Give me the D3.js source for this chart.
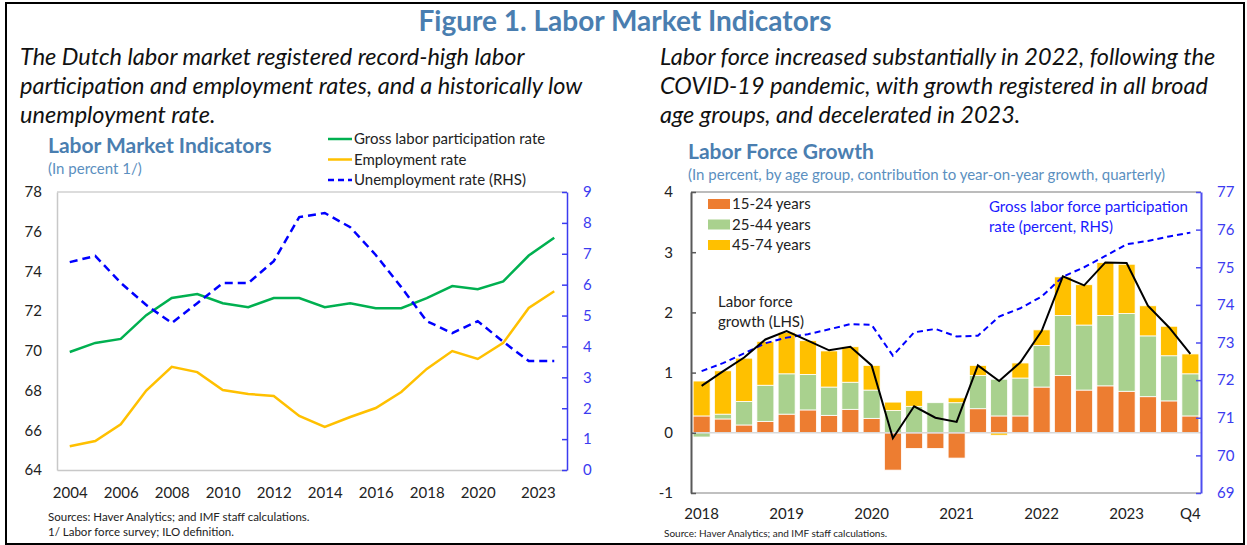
<!DOCTYPE html>
<html>
<head>
<meta charset="utf-8">
<script src="https://cdn.jsdelivr.net/npm/d3@7"></script>
<style>
  body { margin: 0; background: #fff; }
  svg { font-family: Lato, "Open Sans", sans-serif; }
  .para { font-style: italic; font-size: 23.5px; fill: #111; }
  .ctitle { font-weight: bold; font-size: 21px; fill: #4a7eb0; }
  .csub { font-size: 15px; fill: #5b8fc0; }
  .lab { font-size: 15px; fill: #222; }
  .tick text { font-size: 15px; font-family: Lato, "Open Sans", sans-serif; }
  .note { font-size: 11.5px; fill: #222; }
</style>
</head>
<body>
<div id="main"></div>
<script>
// left chart: annual series
const years = [2004, 2005, 2006, 2007, 2008, 2009, 2010, 2011, 2012, 2013,
               2014, 2015, 2016, 2017, 2018, 2019, 2020, 2021, 2022, 2023];
const participation = [69.94, 70.4, 70.6, 71.8, 72.66, 72.86, 72.4, 72.2, 72.66, 72.66,
                       72.2, 72.4, 72.15, 72.15, 72.66, 73.26, 73.1, 73.5, 74.8, 75.7];
const employment = [65.2, 65.46, 66.3, 68.0, 69.2, 68.93, 68.03, 67.83, 67.73, 66.72,
                    66.17, 66.67, 67.12, 67.93, 69.09, 69.99, 69.59, 70.4, 72.16, 73.0];
const unemployment = [6.73, 6.93, 6.06, 5.34, 4.76, 5.4, 6.05, 6.05, 6.76, 8.19,
                      8.32, 7.86, 6.96, 5.92, 4.82, 4.43, 4.82, 4.15, 3.53, 3.53];
const yearLabels = [2004, 2006, 2008, 2010, 2012, 2014, 2016, 2018, 2020, 2023];

// right chart: quarterly contributions
const quarters = ['2018Q1', '2018Q2', '2018Q3', '2018Q4', '2019Q1', '2019Q2', '2019Q3', '2019Q4',
                  '2020Q1', '2020Q2', '2020Q3', '2020Q4', '2021Q1', '2021Q2', '2021Q3', '2021Q4',
                  '2022Q1', '2022Q2', '2022Q3', '2022Q4', '2023Q1', '2023Q2', '2023Q3', '2023Q4'];
const age15to24 = [0.28, 0.23, 0.13, 0.19, 0.31, 0.38, 0.29, 0.39, 0.24, -0.62, -0.26, -0.26,
                   -0.42, 0.40, 0.28, 0.28, 0.76, 0.95, 0.71, 0.78, 0.69, 0.60, 0.53, 0.28];
const age25to44 = [-0.07, 0.08, 0.39, 0.60, 0.67, 0.59, 0.47, 0.45, 0.47, 0.37, 0.44, 0.50,
                   0.50, 0.55, 0.61, 0.63, 0.69, 1.00, 1.08, 1.17, 1.29, 1.01, 0.75, 0.70];
const age45to74 = [0.58, 0.72, 0.72, 0.73, 0.69, 0.56, 0.60, 0.59, 0.41, 0.14, 0.26, 0.0,
                   0.08, 0.17, -0.04, 0.25, 0.26, 0.64, 0.67, 0.88, 0.82, 0.50, 0.49, 0.33];
const lfGrowth = [0.78, 1.02, 1.25, 1.55, 1.69, 1.53, 1.37, 1.43, 1.12, -0.09, 0.44, 0.25,
                  0.18, 1.12, 0.86, 1.17, 1.69, 2.60, 2.45, 2.83, 2.82, 2.11, 1.75, 1.31];
const lfParticipation = [72.24, 72.45, 72.71, 72.98, 73.13, 73.22, 73.35, 73.49, 73.47, 72.65,
                         73.27, 73.36, 73.16, 73.18, 73.69, 73.91, 74.22, 74.75, 75.0, 75.3,
                         75.61, 75.7, 75.82, 75.92];
const quarterLabels = {'2018Q1': '2018', '2019Q1': '2019', '2020Q1': '2020', '2021Q1': '2021',
                       '2022Q1': '2022', '2023Q1': '2023', '2023Q4': 'Q4'};
const ageGroups = ['15-24 years', '25-44 years', '45-74 years'];
const ageColors = ['#ed7d31', '#a9d18e', '#ffc000'];

const W = 1247, H = 545;
const svg = d3.select('#main').append('svg').attr('width', W).attr('height', H);

// frame + header
svg.append('rect').attr('x', 6).attr('y', 3).attr('width', 1238).attr('height', 541)
   .attr('fill', 'none').attr('stroke', '#000').attr('stroke-width', 2);
svg.append('text').attr('x', 625).attr('y', 31).attr('text-anchor', 'middle')
   .attr('font-weight', 'bold').attr('font-size', 28).attr('fill', '#4a7eb0')
   .text('Figure 1. Labor Market Indicators');

const leftPara = ['The Dutch labor market registered record-high labor',
                  'participation and employment rates, and a historically low',
                  'unemployment rate.'];
const rightPara = ['Labor force increased substantially in 2022, following the',
                   'COVID-19 pandemic, with growth registered in all broad',
                   'age groups, and decelerated in 2023.'];
svg.selectAll('text.lp').data(leftPara).join('text').attr('class', 'para lp')
   .attr('x', 20).attr('y', (d, i) => 65 + i * 29).text(d => d);
svg.selectAll('text.rp').data(rightPara).join('text').attr('class', 'para rp')
   .attr('x', 660).attr('y', (d, i) => 65 + i * 29).text(d => d);

// ---------- left chart ----------
const L = {left: 57, right: 567, top: 192, bottom: 470};
const xL = d3.scalePoint().domain(years).range([L.left, L.right]).padding(0.5);
const yL = d3.scaleLinear().domain([64, 78]).range([L.bottom, L.top]);
const yR = d3.scaleLinear().domain([0, 9]).range([L.bottom, L.top]);

const gl = svg.append('g');
gl.append('line').attr('x1', L.left).attr('x2', L.right).attr('y1', L.top).attr('y2', L.top)
  .attr('stroke', '#d0d0d0').attr('stroke-width', 1.5);

const axL = gl.append('g').attr('transform', `translate(${L.left},0)`)
  .call(d3.axisLeft(yL).tickValues([64, 66, 68, 70, 72, 74, 76, 78]).tickSize(0).tickPadding(15));
axL.select('.domain').attr('stroke', '#c8c8c8').attr('stroke-width', 1.5);
axL.selectAll('text').attr('fill', '#222');

const axB = gl.append('g').attr('transform', `translate(0,${L.bottom})`)
  .call(d3.axisBottom(xL).tickValues(yearLabels).tickSize(0).tickPadding(17));
axB.select('.domain').attr('stroke', '#c8c8c8').attr('stroke-width', 1.5);
axB.selectAll('text').attr('fill', '#222')
   .attr('text-anchor', d => d === 2023 ? 'end' : 'middle')
   .attr('dx', d => d === 2023 ? '1' : '0');

const axR = gl.append('g').attr('transform', `translate(${L.right},0)`)
  .call(d3.axisRight(yR).ticks(9).tickSizeInner(-5).tickSizeOuter(0).tickPadding(16));
axR.select('.domain').attr('stroke', '#3b3bf0').attr('stroke-width', 1.5);
axR.selectAll('line').attr('stroke', '#3b3bf0').attr('stroke-width', 1.5);
axR.selectAll('text').attr('fill', '#3b3bf0');

const lineL = d3.line().x((d, i) => xL(years[i])).y(d => yL(d));
const lineR = d3.line().x((d, i) => xL(years[i])).y(d => yR(d));
gl.append('path').attr('d', lineL(employment)).attr('fill', 'none')
  .attr('stroke', '#ffc000').attr('stroke-width', 2.5);
gl.append('path').attr('d', lineL(participation)).attr('fill', 'none')
  .attr('stroke', '#00b050').attr('stroke-width', 2.5);
gl.append('path').attr('d', lineR(unemployment)).attr('fill', 'none')
  .attr('stroke', '#0000ff').attr('stroke-width', 2.5).attr('stroke-dasharray', '8,5');

gl.append('text').attr('class', 'ctitle').attr('x', 48).attr('y', 153).text('Labor Market Indicators');
gl.append('text').attr('class', 'csub').attr('x', 48).attr('y', 174).text('(In percent 1/)');

const legL = [
  {name: 'Gross labor participation rate', color: '#00b050', dash: null},
  {name: 'Employment rate', color: '#ffc000', dash: null},
  {name: 'Unemployment rate (RHS)', color: '#0000ff', dash: '6,4'}
];
const lg = gl.selectAll('g.legl').data(legL).join('g').attr('class', 'legl')
  .attr('transform', (d, i) => `translate(328,${139 + i * 20.5})`);
lg.append('line').attr('x1', 0).attr('x2', 24).attr('stroke', d => d.color)
  .attr('stroke-width', 2.5).attr('stroke-dasharray', d => d.dash);
lg.append('text').attr('class', 'lab').attr('x', 26).attr('y', 5).text(d => d.name);

gl.append('text').attr('class', 'note').attr('x', 48).attr('y', 521)
  .text('Sources: Haver Analytics; and IMF staff calculations.');
gl.append('text').attr('class', 'note').attr('x', 48).attr('y', 536)
  .text('1/ Labor force survey; ILO definition.');

// ---------- right chart ----------
const R = {left: 691, right: 1201, top: 192, bottom: 493};
const xB = d3.scaleBand().domain(quarters).range([R.left, R.right]).paddingInner(0.2).paddingOuter(0.1);
const yB = d3.scaleLinear().domain([-1, 4]).range([R.bottom, R.top]);
const yB2 = d3.scaleLinear().domain([69, 77]).range([R.bottom, R.top]);

const gr = svg.append('g');
gr.append('line').attr('x1', R.left).attr('x2', R.right).attr('y1', R.top).attr('y2', R.top)
  .attr('stroke', '#a6a6a6').attr('stroke-width', 1.5);
gr.append('line').attr('x1', R.left).attr('x2', R.right).attr('y1', R.bottom).attr('y2', R.bottom)
  .attr('stroke', '#c0c0c0').attr('stroke-width', 2);

const table = quarters.map((q, i) => ({
  q: q, '15-24 years': age15to24[i], '25-44 years': age25to44[i], '45-74 years': age45to74[i]
}));
const stacked = d3.stack().keys(ageGroups).offset(d3.stackOffsetDiverging)(table);

gr.selectAll('g.layer').data(stacked).join('g').attr('class', 'layer')
  .attr('fill', (d, i) => ageColors[i])
  .selectAll('rect').data(d => d).join('rect')
    .attr('x', d => xB(d.data.q))
    .attr('y', d => yB(Math.max(d[0], d[1])))
    .attr('height', d => Math.abs(yB(d[0]) - yB(d[1])))
    .attr('width', xB.bandwidth())
    .attr('stroke', '#fff').attr('stroke-width', 0.8);

gr.append('line').attr('x1', R.left).attr('x2', R.right).attr('y1', yB(0)).attr('y2', yB(0))
  .attr('stroke', '#d9d9d9').attr('stroke-width', 1.5);

const axRL = gr.append('g').attr('transform', `translate(${R.left},0)`)
  .call(d3.axisLeft(yB).ticks(5).tickSizeInner(-5).tickSizeOuter(0).tickPadding(18)
        .tickFormat(d => String(d)));
axRL.select('.domain').attr('stroke', '#595959').attr('stroke-width', 2);
axRL.selectAll('line').attr('stroke', '#595959').attr('stroke-width', 1.5);
axRL.selectAll('text').attr('fill', '#222');

const axRR = gr.append('g').attr('transform', `translate(${R.right},0)`)
  .call(d3.axisRight(yB2).ticks(8).tickSizeInner(-5).tickSizeOuter(0).tickPadding(16));
axRR.select('.domain').attr('stroke', '#4d4df0').attr('stroke-width', 2);
axRR.selectAll('line').attr('stroke', '#4d4df0').attr('stroke-width', 1.5);
axRR.selectAll('text').attr('fill', '#3b3bf0');

const axRB = gr.append('g').attr('transform', `translate(0,${R.bottom})`)
  .call(d3.axisBottom(xB).tickValues(Object.keys(quarterLabels)).tickFormat(q => quarterLabels[q])
        .tickSize(0).tickPadding(15));
axRB.select('.domain').remove();
axRB.selectAll('text').attr('fill', '#222');

const cx = q => xB(q) + xB.bandwidth() / 2;
gr.append('path').attr('d', d3.line().x((d, i) => cx(quarters[i])).y(d => yB2(d))(lfParticipation))
  .attr('fill', 'none').attr('stroke', '#0000ff').attr('stroke-width', 2).attr('stroke-dasharray', '6,4');
gr.append('path').attr('d', d3.line().x((d, i) => cx(quarters[i])).y(d => yB(d))(lfGrowth))
  .attr('fill', 'none').attr('stroke', '#000').attr('stroke-width', 2);

gr.append('text').attr('class', 'ctitle').attr('x', 688).attr('y', 159).text('Labor Force Growth');
gr.append('text').attr('class', 'csub').attr('x', 688).attr('y', 180)
  .text('(In percent, by age group, contribution to year-on-year growth, quarterly)');

const lgR = gr.selectAll('g.legr').data(ageGroups).join('g').attr('class', 'legr')
  .attr('transform', (d, i) => `translate(708,${204 + i * 20.5})`);
lgR.append('rect').attr('x', 0).attr('y', -5).attr('width', 22).attr('height', 10)
  .attr('fill', (d, i) => ageColors[i]);
lgR.append('text').attr('class', 'lab').attr('x', 24).attr('y', 5).text(d => d);

gr.selectAll('text.lfl').data(['Labor force', 'growth (LHS)']).join('text').attr('class', 'lab lfl')
  .attr('x', 718).attr('y', (d, i) => 307 + i * 20).text(d => d);
gr.selectAll('text.gpl').data(['Gross labor force participation', 'rate (percent, RHS)']).join('text')
  .attr('class', 'lab gpl').style('fill', '#1a1aff')
  .attr('x', 989).attr('y', (d, i) => 212 + i * 20).text(d => d);

gr.append('text').attr('class', 'note').style('font-size', '10px')
  .attr('x', 664).attr('y', 537).text('Source: Haver Analytics; and IMF staff calculations.');
</script>
</body>
</html>
